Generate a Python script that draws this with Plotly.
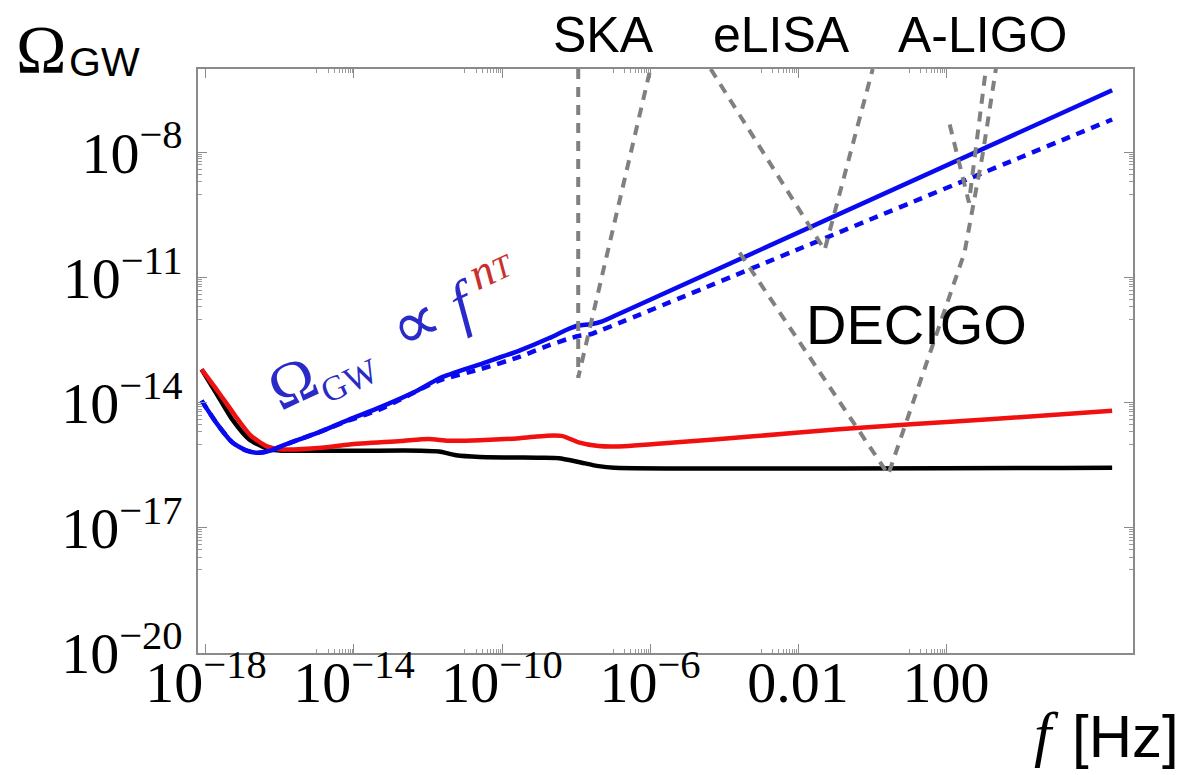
import numpy as np
import plotly.graph_objects as go

# ---- data (log10 f [Hz], log10 Omega_GW) ----
black_logf = [-18.12, -17.73, -17.29, -16.83, -16.29, -15.93, -13.80, -12.20, -11.70, -11.24, -10.60, -9.00, -8.46, -7.93, -7.39, -6.97, 6.49]
black_logO = [-13.20, -13.76, -14.40, -14.88, -15.12, -15.15, -15.15, -15.15, -15.17, -15.26, -15.30, -15.32, -15.33, -15.42, -15.52, -15.56, -15.56]

red_logf = [-18.12, -17.70, -17.22, -16.80, -16.37, -15.93, -14.87, -14.12, -12.73, -11.99, -11.45, -10.60, -9.53, -8.78, -8.36, -7.93, -7.39, -6.86, -5.26, -3.12, -0.99, 1.15, 3.28, 6.49]
red_logO = [-13.20, -13.70, -14.30, -14.78, -15.04, -15.12, -15.08, -15.00, -14.92, -14.87, -14.91, -14.90, -14.85, -14.79, -14.80, -14.95, -15.04, -15.05, -14.95, -14.80, -14.64, -14.51, -14.39, -14.19]

blue_logf = [-18.12, -17.73, -17.29, -16.90, -16.58, -16.26, -15.93, -14.87, -14.12, -13.27, -12.31, -11.66, -10.60, -9.53, -8.72, -8.25, -7.93, -7.61, -7.29, -6.86, 6.49]
blue_logO = [-13.95, -14.47, -14.95, -15.15, -15.20, -15.15, -15.03, -14.68, -14.40, -14.10, -13.72, -13.40, -13.08, -12.75, -12.45, -12.25, -12.15, -12.12, -12.05, -11.88, -6.51]

bluedash_logf = [-18.12, -17.73, -17.29, -16.90, -16.58, -16.26, -15.93, -14.87, -14.12, -13.27, -11.70, -10.60, -9.53, -8.72, -8.25, -7.93, -7.61, -7.29, -6.86, 6.49]
bluedash_logO = [-13.95, -14.47, -14.95, -15.15, -15.20, -15.15, -15.03, -14.68, -14.42, -14.15, -13.47, -13.20, -12.90, -12.62, -12.48, -12.40, -12.36, -12.25, -12.10, -7.21]

ska_logf = [-7.94, -7.94, -5.99]
ska_logO = [-6.0, -13.40, -6.0]
elisa_logf = [-4.36, -1.28, 0.02]
elisa_logO = [-6.0, -10.34, -6.0]
decigo_logf = [-3.58, 0.44, 2.50, 3.00, 3.35]
decigo_logO = [-10.40, -15.72, -10.40, -8.0, -5.99]
aligo_logf = [2.10, 2.62, 3.08]
aligo_logO = [-7.33, -9.20, -5.99]

x_tickvals = [1e-18, 1e-14, 1e-10, 1e-6, 1e-2, 1e2]
x_ticktext = ["10<sup>\u221218</sup>", "10<sup>\u221214</sup>", "10<sup>\u221210</sup>",
              "10<sup>\u22126</sup>", "0.01", "100"]
y_tickvals = [1e-20, 1e-17, 1e-14, 1e-11, 1e-8]
y_ticktext = ["10<sup>\u221220</sup>", "10<sup>\u221217</sup>", "10<sup>\u221214</sup>",
              "10<sup>\u221211</sup>", "10<sup>\u22128</sup>"]
# decades (log10) just below the labelled ticks that carry minor tick marks
x_minor_decades = [-15, -11, -7, -3, 1]
y_minor_decades = [-18, -15, -12, -9]

GRAY = "#808080"
BLUE = "#0a0af0"
RED = "#f01010"

fig = go.Figure()


def add(lf, lo, color, width=4.5, dash=None, shape="spline"):
    fig.add_trace(go.Scatter(
        x=10 ** np.array(lf), y=10 ** np.array(lo), mode="lines",
        line=dict(color=color, width=width, dash=dash, shape=shape,
                  smoothing=0.6 if shape == "spline" else None),
        hoverinfo="skip", showlegend=False))


add(black_logf, black_logO, "black")
add(red_logf, red_logO, RED)
add(blue_logf, blue_logO, BLUE)
add(bluedash_logf, bluedash_logO, BLUE, dash="9px,7px")
for lf, lo in [(ska_logf, ska_logO), (elisa_logf, elisa_logO),
               (decigo_logf, decigo_logO), (aligo_logf, aligo_logO)]:
    add(lf, lo, GRAY, width=4, dash="10px,8px", shape="linear")

L, R, T, B = 190, 64, 61, 130
W, H = 1189, 775
PW, PH = W - L - R, H - T - B


def px(X, Y):
    return (X - L) / PW, (H - B - Y) / PH


def ann(text, X, Y, size, family, color="black", angle=0, yanchor="middle"):
    x, y = px(X, Y)
    fig.add_annotation(text=text, x=x, y=y, xref="paper", yref="paper",
                       showarrow=False, xanchor="center", yanchor=yanchor,
                       textangle=angle, font=dict(size=size, family=family, color=color))


SANS = "Liberation Sans, Arial, sans-serif"
SERIF = "Liberation Serif, Times New Roman, serif"

ann("\u03a9", 33, 1, 68, SERIF, yanchor="top")
ann("GW", 96, 54, 41, SANS)
ann("SKA", 595, 27, 50, SANS)
ann("eLISA", 773, 27, 50, SANS)
ann("A-LIGO", 974, 27, 50, SANS)
ann("DECIGO", 908, 316, 56, SANS)
ann("<i>f</i>", 1038, 726, 62, SERIF)
ann("[Hz]", 1117, 728, 60, SANS)
ann("\u03a9<sub><span style='font-size:35px'>GW</span></sub>\u2002"
    "<span style='font-size:68px'>\u221d</span> <i>f</i>\u2009"
    "<sup><span style='color:#c8302e'><i><span style='font-size:46px'>n</span></i>"
    "<i><span style='font-size:32px'>T</span></i></span></sup>",
    386, 325, 62, SERIF, color="#2a2ac8", angle=-25)

axis_common = dict(type="log", showline=True, linecolor="#8a8a8a", linewidth=1.5,
                   mirror="ticks", ticks="inside", ticklen=9, tickcolor="#8a8a8a",
                   tickwidth=1, showgrid=False, zeroline=False,
                   tickfont=dict(family=SERIF, size=58, color="black"))

XR = [-18.216, 7.054]
YR = [-20, -6]
fig.update_xaxes(range=XR, tickvals=x_tickvals, ticktext=x_ticktext,
                 ticklabelstandoff=-22, **axis_common)
fig.update_yaxes(range=YR, tickvals=y_tickvals, ticktext=y_ticktext,
                 ticklabelstandoff=2, **axis_common)

# faint minor tick marks (overlay axes without labels)
x_minor = [m * 10.0 ** k for k in x_minor_decades for m in range(1, 10)]
y_minor = [m * 10.0 ** k for k in y_minor_decades for m in range(1, 10)]
minor_common = dict(type="log", showline=False, mirror="ticks", ticks="inside", ticklen=4,
                    tickcolor="#9a9a9a", tickwidth=1, showgrid=False, zeroline=False,
                    showticklabels=False)
fig.update_layout(
    xaxis2=dict(overlaying="x", anchor="y", side="bottom", range=XR, tickvals=x_minor, **minor_common),
    yaxis2=dict(overlaying="y", anchor="x", side="left", range=YR, tickvals=y_minor, **minor_common),
)
fig.add_trace(go.Scatter(x=[1e-17], y=[1e-19], xaxis="x2", yaxis="y2", mode="markers",
                         marker=dict(opacity=0), hoverinfo="skip", showlegend=False))

fig.update_layout(width=W, height=H, margin=dict(l=L, r=R, t=T, b=B),
                  paper_bgcolor="white", plot_bgcolor="white", showlegend=False)

fig.write_html("out.html")
